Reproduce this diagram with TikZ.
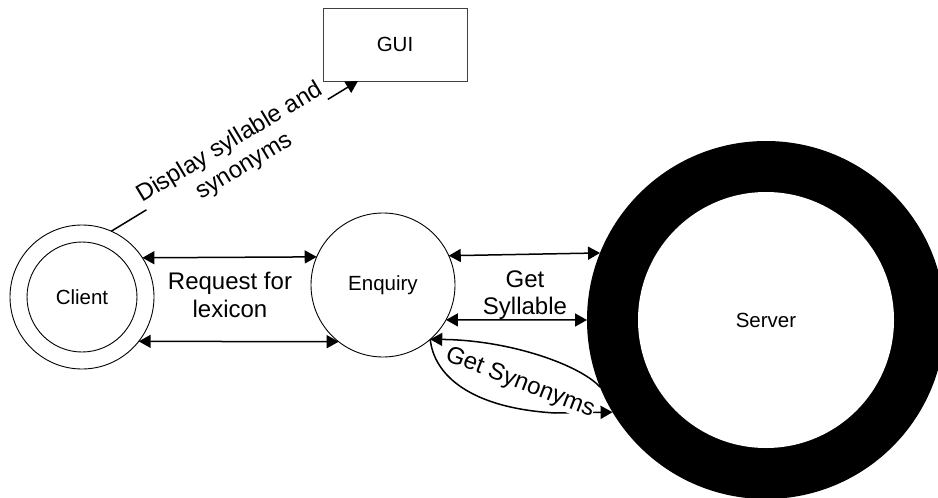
\documentclass[tikz,border=0pt]{standalone}
\usepackage{fontspec}
\setmainfont{Liberation Sans}
\usetikzlibrary{arrows.meta,calc}
\tikzset{
  proc/.style={circle, draw, line width=0.9pt, inner sep=0pt, outer sep=0pt,
    font=\fontsize{20.5}{24}\selectfont},
  flow/.style={line width=1.5pt, -{Triangle[length=12pt,width=13pt]}},
  biflow/.style={line width=1.5pt,
    {Triangle[length=12pt,width=13pt]}-{Triangle[length=12pt,width=13pt]}},
  lbl/.style={align=center, inner sep=0pt, font=\fontsize{24}{27.6}\selectfont},
}
\begin{document}
\begin{tikzpicture}[x=1pt,y=-1pt]
\clip (0,0) rectangle (938,498);
\fill[white] (0,0) rectangle (938,498);

% GUI window
\node[draw=black!75, line width=0.9pt, minimum width=144pt, minimum height=73pt,
  inner sep=0pt, outer sep=0pt, font=\fontsize{20.5}{24}\selectfont] (gui) at (395,44.5) {GUI};

% client (double circle)
\node[proc, minimum size=144pt] (client) at (82,297) {};
\node[proc, minimum size=110pt] (clientin) at (client.center) {Client};

% enquiry process
\node[proc, minimum size=144pt] (enq) at (383,285) {Enquiry};

% server (thick ring)
\node[circle, fill=black, inner sep=0pt, outer sep=0pt, minimum size=358pt] (server) at (766,320) {};
\node[circle, fill=white, inner sep=0pt, outer sep=0pt, minimum size=256pt,
  font=\fontsize{20.5}{24}\selectfont] (serverin) at (server.center) {Server};

% client <-> enquiry
\draw[biflow] (client.33.7) -- (enq.157.1);
\draw[biflow] (client.-38.7) -- (enq.232.3);
\node[lbl] (reqlbl) at (230,295) {Request for\\lexicon};

% enquiry <-> server
\draw[biflow] (enq.24.6) -- (server.158.7);
\draw[biflow] (enq.-29.1) -- (server.180);
\node[lbl] (syllbl) at (525,295) {Get\\Syllable};

% synonyms exchange
\draw[flow] (enq.-49) .. controls (434,375) and (470,408) .. (555,413) -- (server.211.8);
\node[lbl, fill=white, rotate=-21] (synlbl) at (520,383) {Get Synonyms};
\draw[flow] (server.202.6) .. controls (580,365) and (510,340) .. (enq.-49);

% client -> GUI
\draw[flow] (client.66) -- node[lbl, fill=white, rotate=31, pos=0.51] (displbl)
  {Display syllable and\\synonyms} ($(gui.south)+(-37,0)$);
\end{tikzpicture}
\end{document}
